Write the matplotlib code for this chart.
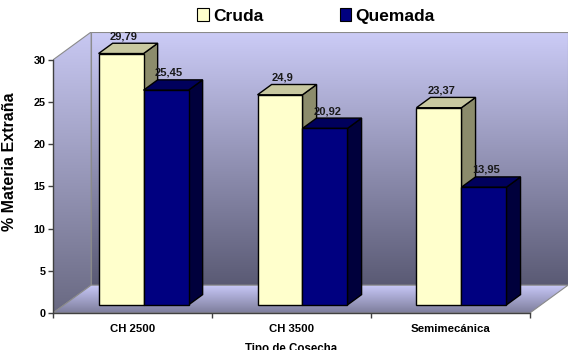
import numpy as np
import matplotlib
matplotlib.use('Agg')
import matplotlib.pyplot as plt
from matplotlib.patches import Polygon, Patch

plt.rcParams['font.family'] = ['Liberation Sans', 'DejaVu Sans']
plt.rcParams['font.weight'] = 'bold'

# data
categories = ['CH 2500', 'CH 3500', 'Semimecánica']
cruda = [29.79, 24.9, 23.37]
quemada = [25.45, 20.92, 13.95]
cruda_labels = ['29,79', '24,9', '23,37']
quemada_labels = ['25,45', '20,92', '13,95']
yticks = [0, 5, 10, 15, 20, 25, 30]

# 3d look
DX, DY = 0.24, 3.3        # depth of the box (data units)
A, B = 0.29, 0.66         # bar front / back depth fraction
W = 0.283                 # bar width

face_c = {'c': '#FFFFCC', 'q': '#000080'}
top_c = {'c': '#C8C8A0', 'q': '#00005C'}
side_c = {'c': '#8C8C6C', 'q': '#00003C'}

fig = plt.figure(figsize=(5.74, 3.5), dpi=100)
ax = fig.add_axes([53 / 574, 37 / 350, 515 / 574, 281 / 350])
ax.set_xlim(0, 3 + DX)
ax.set_ylim(0, 30 + DY)


def grad_fill(verts, c_low, c_high, y0, y1, z):
    poly = Polygon(verts, closed=True, facecolor='none', edgecolor='#8A8A8A', lw=0.8, zorder=z + 0.1)
    ax.add_patch(poly)
    t = np.linspace(0, 1, 256)[:, None]
    lo = np.array(c_low) / 255.0
    hi = np.array(c_high) / 255.0
    arr = (lo + (hi - lo) * t)[:, None, :]
    xs = [v[0] for v in verts]
    im = ax.imshow(arr, extent=[min(xs), max(xs), y0, y1], origin='lower',
                   aspect='auto', zorder=z, interpolation='bilinear')
    im.set_clip_path(poly)


# back wall
grad_fill([(DX, DY), (3 + DX, DY), (3 + DX, 30 + DY), (DX, 30 + DY)],
          (90, 90, 116), (204, 204, 247), DY, 30 + DY, 0)
# side wall
grad_fill([(0, 0), (DX, DY), (DX, 30 + DY), (0, 30)],
          (105, 105, 130), (200, 200, 242), 0, 30 + DY, 0.5)
# floor
grad_fill([(0, 0), (3, 0), (3 + DX, DY), (DX, DY)],
          (125, 125, 155), (200, 200, 248), 0, DY, 0.6)


def bar3d(x0, v, key, z):
    x1 = x0 + W
    front = [(x0 + A * DX, A * DY), (x1 + A * DX, A * DY),
             (x1 + A * DX, v + A * DY), (x0 + A * DX, v + A * DY)]
    top = [(x0 + A * DX, v + A * DY), (x1 + A * DX, v + A * DY),
           (x1 + B * DX, v + B * DY), (x0 + B * DX, v + B * DY)]
    side = [(x1 + A * DX, A * DY), (x1 + B * DX, B * DY),
            (x1 + B * DX, v + B * DY), (x1 + A * DX, v + A * DY)]
    for verts, col in ((side, side_c[key]), (top, top_c[key]), (front, face_c[key])):
        ax.add_patch(Polygon(verts, closed=True, facecolor=col, edgecolor='black',
                             lw=1.0, joinstyle='miter', zorder=z))


z = 2
for i in range(len(categories)):
    xc = i + 0.5
    bar3d(xc - W, cruda[i], 'c', z)
    z += 1
    bar3d(xc, quemada[i], 'q', z)
    z += 1
    ax.annotate(cruda_labels[i], (xc - W / 2 + A * DX + 0.016, cruda[i] + B * DY),
                xytext=(0, 1.5), textcoords='offset points', ha='center', va='bottom',
                fontsize=8, color='#1A1A1A', zorder=20)
    ax.annotate(quemada_labels[i], (xc + W / 2 + A * DX + 0.016, quemada[i] + B * DY),
                xytext=(0, 1.5), textcoords='offset points', ha='center', va='bottom',
                fontsize=8, color='#1A1A1A', zorder=20)

# axes lines
for s in ['top', 'right']:
    ax.spines[s].set_visible(False)
ax.spines['left'].set_bounds(0, 30)
ax.spines['bottom'].set_bounds(0, 3)
for s in ['left', 'bottom']:
    ax.spines[s].set_color('#404040')
    ax.spines[s].set_linewidth(1.0)
    ax.spines[s].set_zorder(30)
ax.set_yticks(yticks)
ax.set_yticklabels([str(t) for t in yticks], fontsize=7.8)
ax.set_xticks([0, 1, 2, 3])
ax.set_xticklabels([])
ax.set_xticks([0.5, 1.5, 2.5], minor=True)
ax.set_xticklabels(categories, minor=True, fontsize=8.2)
ax.tick_params(axis='x', which='minor', length=0, pad=8)
ax.tick_params(axis='both', which='major', length=3.5, color='#404040', width=1.0)
ax.tick_params(axis='y', pad=2)

fig.text(291.5 / 574, 1 - 343 / 350, 'Tipo de Cosecha', ha='center', va='top', fontsize=8.3)
fig.text(10 / 574, 1 - 161.5 / 350, '% Materia Extraña', ha='center', va='center',
         rotation=90, fontsize=11.5)

handles = [Patch(facecolor=face_c['c'], edgecolor='black', lw=0.8),
           Patch(facecolor=face_c['q'], edgecolor='black', lw=0.8)]
fig.legend(handles, ['Cruda', 'Quemada'], loc='center', bbox_to_anchor=(316 / 574, 1 - 16 / 350),
           ncol=2, frameon=False, fontsize=12.5, handlelength=0.65, handleheight=0.75,
           handletextpad=0.25, columnspacing=4.4, borderpad=0)

fig.savefig('out.png', dpi=100)
